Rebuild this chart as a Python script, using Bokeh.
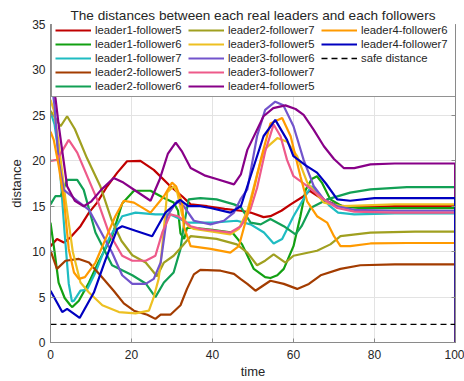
from bokeh.plotting import figure
from bokeh.models import Range1d, LinearAxis, FixedTicker, Legend, LegendItem
from bokeh.embed import file_html
from bokeh.resources import INLINE

# ---- data ----
series_names = ["leader1-follower5", "leader1-follower6", "leader1-follower7",
                "leader2-follower5", "leader2-follower6", "leader2-follower7",
                "leader3-follower5", "leader3-follower6", "leader3-follower7",
                "leader4-follower5", "leader4-follower6", "leader4-follower7"]

l1f5_t = [0, 1.6, 3.3, 5, 7.4, 9.5, 11.5, 14, 16.5, 18.9, 22.2, 25.5, 29.6, 32.5, 34.6, 38.7, 43, 47, 49.4, 52.6,
          54.3, 57, 59.3, 62.5, 64, 67, 70.8, 75, 85, 99.9, 100]
l1f5_v = [10.6, 11.4, 11.0, 11.6, 12.8, 14.3, 15.4, 17.2, 18.7, 19.95, 20.0, 19.0, 17.2, 16.1, 15.2, 15.0, 14.7, 14.5, 14.3, 13.8,
          13.9, 14.5, 15.2, 16.1, 16.7, 15.8, 15.1, 14.9, 15.0, 15.0, 0]

l1f6_t = [0, 1, 2, 3.5, 4.9, 5.4, 7, 9.5, 12, 15.2, 17.7, 20.6, 24.7, 28, 30.4, 31.5, 32.1, 33, 33.7, 36,
          40, 44.9, 47.3, 50.2, 53, 54.3, 56, 57.6, 60, 61.7, 63, 64.5, 65.8, 67, 69.1, 72, 76, 85, 99.9, 100]
l1f6_v = [13.2, 10, 6.6, 4.9, 4.1, 3.9, 4.6, 6.6, 9.0, 11.7, 15.3, 16.7, 16.7, 15.9, 15.4, 14.5, 12.0, 11.4, 12.6, 12.6,
          12.4, 12.1, 10.8, 8.1, 7.2, 7.1, 7.4, 8.1, 10.6, 13.9, 16.8, 18.0, 18.3, 17.6, 15.75, 15.0, 14.8, 14.8, 14.8, 0]

l1f7_t = [0, 1, 2.1, 3.5, 4.5, 5.3, 5.8, 7.4, 9, 11.1, 14.4, 17.7, 21, 25.9, 29.6, 32, 33.7, 40, 46, 49.4,
          52.7, 55.1, 57.2, 60, 63.4, 64.5, 67, 69, 71, 75, 85, 99.9, 100]
l1f7_v = [25.4, 24, 20.5, 12, 6.5, 4.5, 4.6, 5.7, 5.8, 7.7, 11.4, 13.9, 14.3, 14.1, 14.1, 13.6, 13.2, 13.2, 13.4, 13.0,
          12.1, 10.9, 11.4, 13.9, 16.5, 17.2, 16.0, 15.0, 14.3, 14.1, 14.2, 14.2, 0]

l2f5_t = [0, 1.6, 3.7, 7, 9.5, 12.3, 15.6, 18.1, 20.6, 23.9, 25.9, 27.2, 29.6, 32.1, 33.7, 35.4, 37, 42, 45.3, 46.9,
          48.6, 50.6, 54.3, 57.6, 60.9, 63.8, 66.7, 71.6, 76.5, 85, 99.9, 100]
l2f5_v = [10.1, 8.1, 9.0, 9.2, 8.8, 7.4, 5.7, 4.3, 3.5, 3.06, 2.6, 3.06, 3.06, 4.1, 5.9, 7.5, 8.0, 7.9, 7.55, 7.0,
          6.45, 5.7, 6.8, 6.45, 5.9, 6.45, 7.4, 8.1, 8.5, 8.6, 8.6, 0]

l2f6_t = [0, 1.2, 2.5, 4.1, 6.6, 8.2, 11.1, 15.2, 20.2, 23.5, 25.9, 28, 30.4, 32.1, 32.8, 34.1, 37, 41, 45.3, 47,
          49.4, 51.9, 54.3, 57.6, 60.5, 62, 64.2, 68.3, 74, 79, 88, 99.9, 100]
l2f6_v = [15.2, 16.1, 16.1, 17.9, 17.9, 16.8, 12.1, 8.5, 7.4, 6.5, 5.0, 6.6, 7.7, 10.3, 12.5, 15.75, 15.9, 15.75, 15.2, 14.9,
          13.2, 13.0, 13.6, 12.8, 11.9, 12.8, 14.8, 15.75, 16.5, 16.85, 17.1, 17.1, 0]

l2f7_t = [0, 2.5, 4.1, 6, 9, 12.3, 15, 17.5, 20.2, 23.5, 26.3, 28, 30.4, 32.5, 34.6, 37, 41, 46, 48.6, 51,
          53, 55.1, 58, 60, 65.8, 69.1, 71.6, 79, 90, 99.9, 100]
l2f7_v = [25.5, 23.8, 24.9, 23.5, 20.3, 17.2, 13.6, 11.2, 9.6, 8.8, 7.3, 8.8, 9.55, 10.6, 11.7, 11.6, 11.4, 10.8, 9.9, 8.5,
          9.0, 9.7, 8.8, 9.55, 10.1, 10.8, 11.7, 12.1, 12.2, 12.2, 0]

l3f5_t = [0, 0.8, 2, 3.7, 5.5, 7.4, 9.5, 12.8, 16.9, 21, 24.3, 25.5, 26.7, 27.2, 28, 28.8, 30.4, 31.3, 32.5, 34,
          35.4, 40, 44.4, 46.5, 48.6, 49.4, 51, 52.7, 56, 58.4, 60.9, 63.4, 67.5, 72, 85, 99.9, 100]
l3f5_v = [26.7, 25.6, 22, 15.75, 10, 6.6, 5.5, 4.1, 3.35, 3.2, 3.5, 5.0, 7.0, 8.8, 12.5, 16.5, 17.2, 16.5, 14.0, 12.8,
          12.5, 12.2, 11.9, 12.5, 14.5, 15.75, 18.5, 21.2, 22.5, 22.1, 20.5, 17.6, 15.4, 15.0, 15.2, 15.2, 0]

l3f6_t = [0, 1, 2, 3.3, 6.6, 9.5, 11.1, 15.2, 17.7, 20.2, 23.5, 25.5, 27.2, 28.8, 31.3, 32.9, 35.4, 39.5, 42.8, 45.3,
          46.9, 48.6, 51, 53, 55.5, 57.5, 60, 62.5, 65, 67.5, 70.8, 75, 85, 99.9, 100]
l3f6_v = [29.8, 26, 20, 16.8, 15.6, 14.6, 13.3, 9.9, 7.4, 6.45, 6.45, 7.0, 8.8, 13.9, 15.6, 15.0, 13.4, 13.0, 13.4, 14.3,
          15.75, 16.85, 22.7, 25.6, 26.5, 26.1, 23.8, 20.1, 17.2, 15.75, 15.0, 14.6, 14.5, 14.5, 0]

l3f7_t = [0, 1.6, 4.5, 6.6, 11.5, 14.4, 17.7, 20.2, 23.5, 25.9, 27.6, 29.6, 31.5, 34.6, 37, 41, 44.4, 47, 49.4, 51,
          53, 55.1, 56.8, 58.4, 60, 63.4, 67.5, 70.8, 75, 85, 99.9, 100]
l3f7_v = [20.0, 20.1, 22.3, 20.9, 15.75, 12.1, 9.55, 9.0, 9.0, 9.55, 12.1, 14.1, 13.9, 12.8, 12.5, 12.3, 12.1, 12.8, 14.7, 17.0,
          21.0, 24.0, 22.7, 20.1, 18.3, 17.2, 15.75, 14.8, 14.4, 14.3, 14.3, 0]

l4f5_t = [0, 0.5, 1.2, 2, 4.1, 6, 8.2, 10, 12.5, 15.6, 18, 21, 24.7, 27, 29, 30.9, 32.5, 34.6, 38, 41,
          45.3, 47, 48.6, 52.6, 55, 58, 60.5, 62.5, 65, 67.5, 70, 72.4, 75, 79, 85, 99.9, 100]
l4f5_v = [30.5, 30.6, 27, 24, 17.2, 15.6, 15.0, 15.5, 16.8, 18.1, 17.6, 16.7, 15.6, 18, 20.8, 22.0, 21.0, 19.2, 18.4, 18.0,
          17.4, 18.5, 21.2, 24.9, 25.8, 26.1, 25.7, 25.05, 23.4, 21.6, 20.2, 19.2, 19.2, 19.6, 19.7, 19.7, 0]

l4f6_t = [0, 0.8, 2, 3.3, 4.5, 5.8, 7, 8.5, 11.1, 13.6, 16, 18.1, 20.6, 24.7, 28, 30, 31, 32.5, 32.9, 34.6,
          39.5, 44.4, 46.5, 48.1, 50.2, 51.9, 54.3, 57.2, 59.3, 61.7, 63.4, 65.8, 68.3, 70, 71.6, 74, 79, 88, 99.9, 100]
l4f6_v = [23.2, 22.3, 19.5, 15.75, 10.3, 7.7, 7.0, 7.2, 8.8, 11.4, 13.9, 15.6, 15.4, 14.3, 16.1, 17.6, 17.2, 15.4, 12.8, 10.6,
          10.3, 9.9, 10.6, 13.2, 16.85, 20.1, 24.1, 24.7, 22.7, 18.3, 15.5, 13.9, 13.2, 11.7, 10.6, 10.6, 10.9, 10.95, 10.95, 0]

l4f7_t = [0, 2.9, 4.1, 7.2, 10.7, 13.5, 16.5, 17.7, 21, 25.1, 28.4, 32, 34, 37, 39.5, 44.4, 47, 49.4, 52.6, 55.5,
          58.4, 60, 63, 65.8, 68, 70.8, 74, 80, 99.9, 100]
l4f7_v = [5.7, 3.35, 3.7, 2.7, 5.5, 9.0, 12.5, 12.8, 12.3, 11.7, 14.3, 15.7, 15.0, 15.0, 14.8, 14.3, 15.0, 18.3, 22.7, 24.5,
          22.3, 20.5, 19.5, 18.7, 17.5, 15.75, 15.6, 15.9, 15.9, 0]

safe_t = [0, 100]
safe_v = [2, 2]

x_ticks = [0, 20, 40, 60, 80, 100]
y_ticks = [0, 5, 10, 15, 20, 25, 30, 35]

title_text = "The distances between each real leaders and each followers"
x_label = "time"
y_label = "distance"
safe_label = "safe distance"

colors = ["#C00000", "#12A012", "#1FBCC2",
          "#A33C00", "#12A055", "#A0A020",
          "#EDC021", "#7254CC", "#EE5A8A",
          "#880088", "#FF9A00", "#0000C0"]

series_t = [l1f5_t, l1f6_t, l1f7_t, l2f5_t, l2f6_t, l2f7_t, l3f5_t, l3f6_t, l3f7_t, l4f5_t, l4f6_t, l4f7_t]
series_v = [l1f5_v, l1f6_v, l1f7_v, l2f5_v, l2f6_v, l2f7_v, l3f5_v, l3f6_v, l3f7_v, l4f5_v, l4f6_v, l4f7_v]

FONT = "Liberation Sans"
TXT = "#262626"
AX = "#8a8a8a"

p = figure(width=464, height=381, output_backend="svg", toolbar_location=None,
           x_range=Range1d(0, 100), y_range=Range1d(0, 35),
           min_border_left=50, min_border_right=9, min_border_top=24, min_border_bottom=37)
p.outline_line_color = AX
p.background_fill_color = "white"

p.title.text = title_text
p.title.align = "center"
p.title.text_font = FONT
p.title.text_font_size = "13.6px"
p.title.text_font_style = "normal"
p.title.text_color = TXT
p.title.standoff = 3

for ax in (p.xaxis[0], p.yaxis[0]):
    ax.axis_line_color = AX
    ax.major_tick_line_color = AX
    ax.minor_tick_line_color = None
    ax.major_tick_in = 4
    ax.major_tick_out = 0
    ax.major_label_text_font = FONT
    ax.major_label_text_font_size = "12px"
    ax.major_label_text_color = TXT
    ax.axis_label_text_font = FONT
    ax.axis_label_text_font_size = "13px"
    ax.axis_label_text_font_style = "normal"
    ax.axis_label_text_color = TXT
p.xaxis[0].ticker = FixedTicker(ticks=x_ticks)
p.yaxis[0].ticker = FixedTicker(ticks=y_ticks)
p.xaxis[0].axis_label = x_label
p.yaxis[0].axis_label = y_label
p.xaxis[0].major_label_standoff = 7
p.xaxis[0].axis_label_standoff = 2
p.yaxis[0].major_label_standoff = 5
p.yaxis[0].axis_label_standoff = 5

# right-hand box side with inward ticks, no labels
ra = LinearAxis(ticker=FixedTicker(ticks=y_ticks), major_label_standoff=0,
                major_label_overrides={t: "" for t in y_ticks},
                major_tick_in=4, major_tick_out=0,
                minor_tick_line_color=None, axis_line_color=AX, major_tick_line_color=AX)
p.add_layout(ra, "right")

p.xgrid.ticker = FixedTicker(ticks=x_ticks)
p.ygrid.ticker = FixedTicker(ticks=y_ticks)
p.xgrid.grid_line_color = "#e3e3e3"
p.ygrid.grid_line_color = "#e3e3e3"

renderers = []
for t, v, c in zip(series_t, series_v, colors):
    r = p.line(t, v, line_color=c, line_width=2.2)
    renderers.append(r)
rs = p.line(safe_t, safe_v, line_color="black", line_width=1.3, line_dash="6 4")

items = [LegendItem(label=n, renderers=[r]) for n, r in zip(series_names, renderers)]
items.append(LegendItem(label=safe_label, renderers=[rs]))
legend = Legend(items=items, nrows=5, location=(1, 245), orientation="vertical",
                label_text_font=FONT, label_text_font_size="11.3px", label_text_color=TXT,
                glyph_width=36, glyph_height=14, label_height=14, label_width=93,
                label_standoff=4, spacing=0, padding=3, margin=0,
                border_line_color=TXT, border_line_width=1, background_fill_alpha=1.0)
p.add_layout(legend, "center")

open("out.html", "w").write(file_html(p, INLINE))
